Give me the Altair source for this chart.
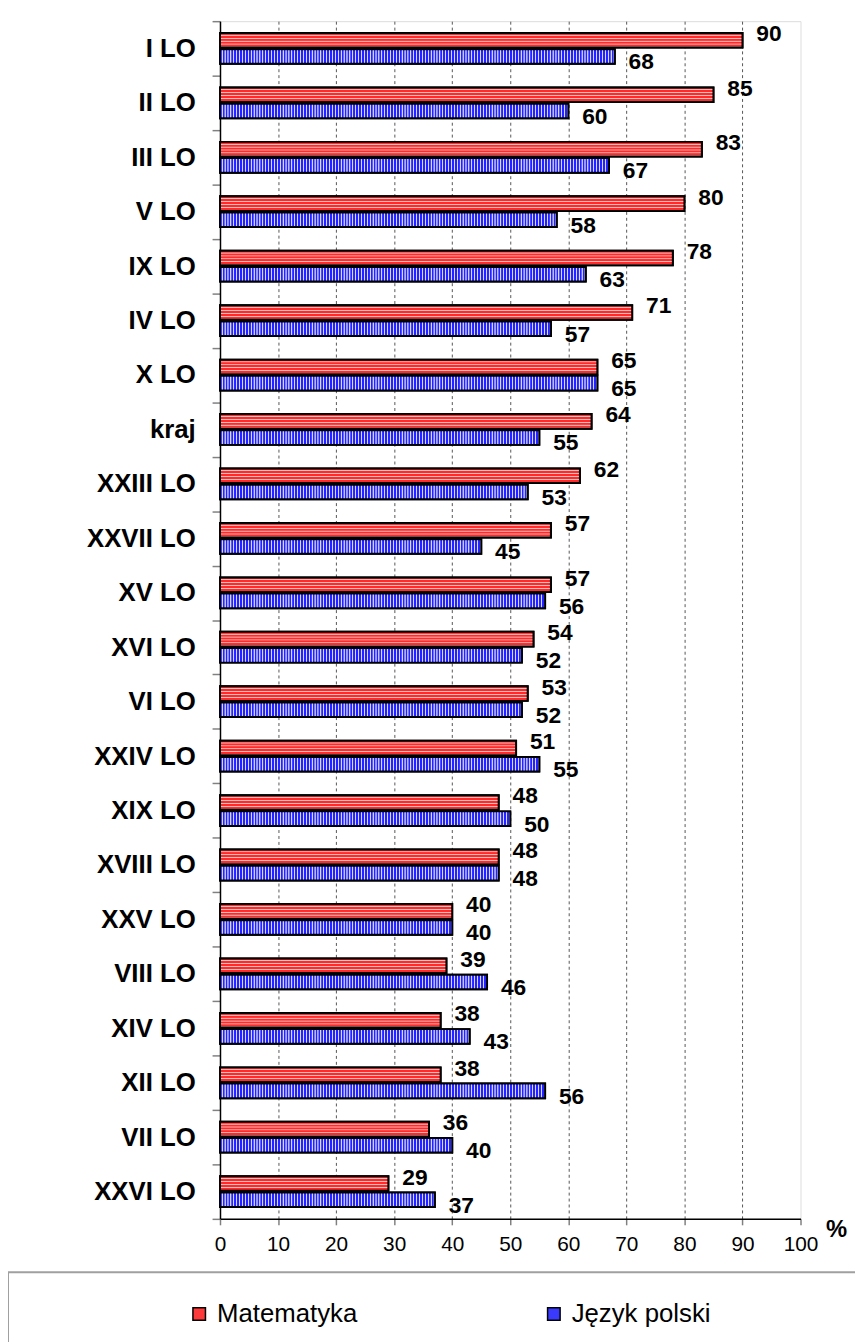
import altair as alt
import pandas as pd

schools = ["I LO", "II LO", "III LO", "V LO", "IX LO", "IV LO", "X LO", "kraj",
           "XXIII LO", "XXVII LO", "XV LO", "XVI LO", "VI LO", "XXIV LO", "XIX LO",
           "XVIII LO", "XXV LO", "VIII LO", "XIV LO", "XII LO", "VII LO", "XXVI LO"]
matematyka = [90, 85, 83, 80, 78, 71, 65, 64, 62, 57, 57, 54, 53, 51, 48, 48, 40, 39, 38, 38, 36, 29]
polski = [68, 60, 67, 58, 63, 57, 65, 55, 53, 45, 56, 52, 52, 55, 50, 48, 40, 46, 43, 56, 40, 37]
subjects = ["Matematyka", "Język polski"]
x_ticks = [0, 10, 20, 30, 40, 50, 60, 70, 80, 90, 100]

rows = []
for s, m, p in zip(schools, matematyka, polski):
    rows.append({"school": s, "subject": subjects[0], "value": m})
    rows.append({"school": s, "subject": subjects[1], "value": p})
df = pd.DataFrame(rows)

FONT = "Liberation Sans"
NBSP = "\u00a0"
ZW = "\u200b"


def stripe_stops(n, c1, c2, f1=0.55, f2=0.68, f3=0.9):
    out = []
    for k in range(n):
        o = k / n
        st = 1.0 / n
        out += [(o, c1), (o + f1 * st, c1), (o + f2 * st, c2), (o + f3 * st, c2)]
    out.append((1.0, c1))
    return out


red_stops = stripe_stops(5, "#ff2a2a", "#ffbcbc")
red_grad = {
    "gradient": "linear", "x1": 0, "y1": 0, "x2": 0, "y2": 1,
    "stops": [{"offset": round(o, 5), "color": c} for o, c in red_stops],
}

blue_stops = stripe_stops(200, "#2323ff", "#d6d6ff", 0.5, 0.62, 0.88)
blue_expr = (
    "{gradient:'linear',x1:0,y1:0,x2:100/datum.value,y2:0,stops:["
    + ",".join("{offset:%.5f,color:'%s'}" % (o, c) for o, c in blue_stops)
    + "]}"
)

y_enc = alt.Y(
    "school:N", sort=schools,
    scale=alt.Scale(paddingInner=0, paddingOuter=0),
    axis=alt.Axis(title=None, labelFontSize=26, labelFontWeight="bold", labelColor="black",
                  labelPadding=17, tickBand="extent", tickSize=8, tickColor="#808080",
                  tickWidth=1.5, domainColor="black", domainWidth=1.5, grid=False,
                  labelFont=FONT),
)
x_enc = alt.X(
    "value:Q",
    scale=alt.Scale(domain=[0, 100], nice=False),
    axis=alt.Axis(values=x_ticks, title="%", titleFontSize=24, titleFontWeight="bold",
                  titleX=622, titleY=11, titleAlign="center", titleBaseline="middle",
                  titleColor="black", labelFontSize=21, labelColor="black", labelPadding=9,
                  tickSize=6, tickColor="#808080", tickWidth=1.5, domainColor="black",
                  domainWidth=1.5, grid=True, gridDash=[3, 3], gridColor="#555555",
                  gridWidth=1,
                  gridOpacity={"condition": {"test": "datum.value >= 100", "value": 0}, "value": 1},
                  labelFlush=False, labelFont=FONT, titleFont=FONT),
)
yoff_enc = alt.YOffset("subject:N", sort=subjects,
                       scale=alt.Scale(domain=subjects, paddingInner=0.1, paddingOuter=0.73))

base = alt.Chart(df)

bars = base.mark_bar(stroke="black", strokeWidth=2).encode(
    x=x_enc, y=y_enc, yOffset=yoff_enc,
    fill=alt.Fill(
        "subject:N",
        scale=alt.Scale(domain=subjects, range=["#ff3a3a", "#3a3aff"]),
        legend=alt.Legend(
            orient="none", legendX=-214, legendY=1263, direction="horizontal", columns=2,
            title=ZW + NBSP * 54 + ZW, titleOrient="left", titleFontSize=10, titlePadding=0,
            titleLimit=400,
            labelExpr="datum.label == 'Język polski' ? datum.label + '" + NBSP * 19 + ZW + "' : datum.label",
            labelLimit=700, labelFontSize=26, labelColor="black", labelFont=FONT,
            labelOffset=5, symbolType="square", symbolSize=160, symbolStrokeColor="black",
            symbolStrokeWidth=1.5, symbolOpacity=1, columnPadding=185, padding=29,
            strokeColor="#a0a0a0",
        ),
    ),
)

red_bars = base.transform_filter(alt.datum.subject == subjects[0]).mark_bar(
    stroke="black", strokeWidth=2, fill=red_grad
).encode(x=x_enc, y=y_enc, yOffset=yoff_enc)

blue_bars = base.transform_filter(alt.datum.subject == subjects[1]).mark_bar(
    stroke="black", strokeWidth=2, fill={"expr": blue_expr}
).encode(x=x_enc, y=y_enc, yOffset=yoff_enc)

red_text = base.transform_filter(alt.datum.subject == subjects[0]).mark_text(
    align="left", baseline="middle", dx=14, dy=-6, fontSize=23, fontWeight="bold",
    color="black", font=FONT
).encode(x=x_enc, y=y_enc, yOffset=yoff_enc, text="value:Q")

blue_text = base.transform_filter(alt.datum.subject == subjects[1]).mark_text(
    align="left", baseline="middle", dx=14, dy=6, fontSize=23, fontWeight="bold",
    color="black", font=FONT
).encode(x=x_enc, y=y_enc, yOffset=yoff_enc, text="value:Q")

chart = alt.layer(bars, red_bars, blue_bars, red_text, blue_text).properties(
    width=586, height=1209,
    autosize=alt.AutoSizeParams(type="none"),
    padding={"left": 214, "top": 7, "right": 55, "bottom": 118},
).configure_view(stroke=None).configure(font=FONT).configure_legend(strokeWidth=2)

chart.save("out.html", embed_options={"renderer": "svg", "actions": False})
